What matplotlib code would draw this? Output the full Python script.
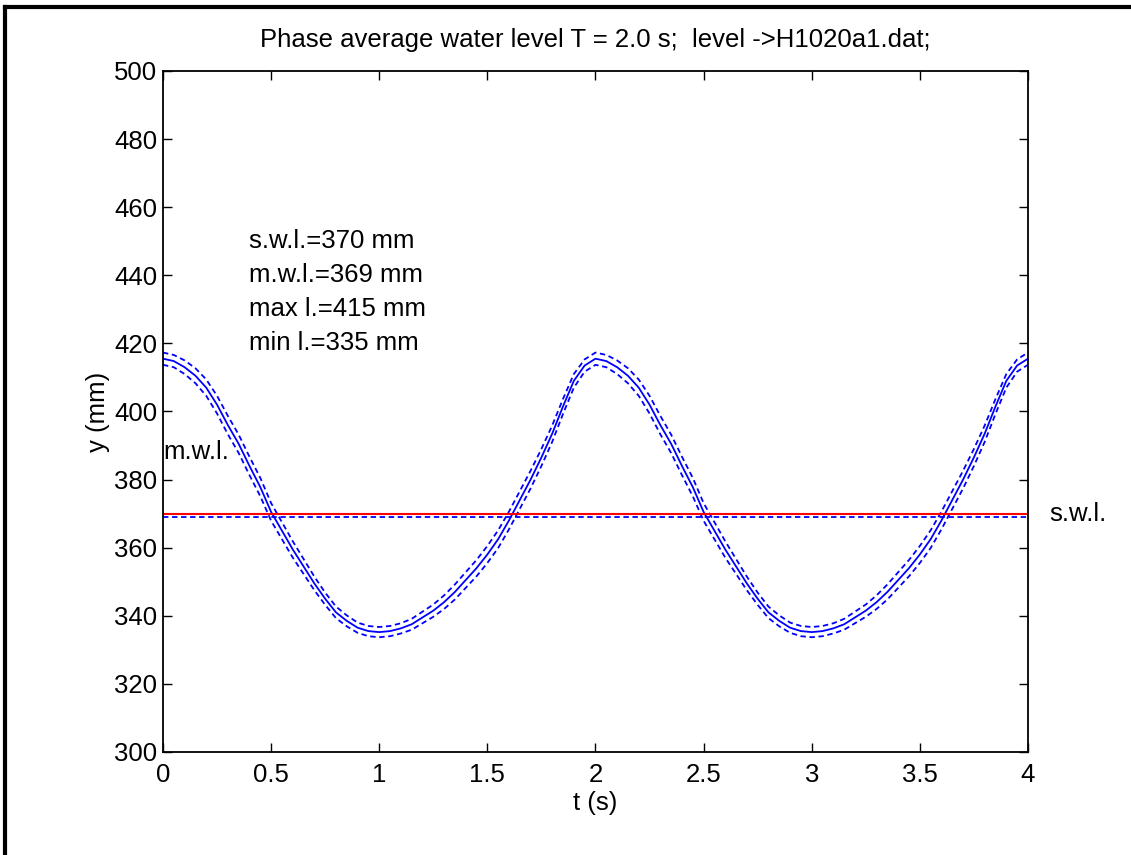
import numpy as np
import matplotlib
matplotlib.use("Agg")
import matplotlib.pyplot as plt
from matplotlib.lines import Line2D

plt.rcParams['font.family'] = ['Liberation Sans', 'DejaVu Sans']

# phase averaged water level over one wave period (T = 2.0 s), 0.05 s steps
t_phase = np.linspace(0.0, 2.0, 41)
level_mean = [415.5, 414.8, 413.0, 410.5, 407.0, 402.0, 396.0, 390.5, 384.0, 377.8,
              370.5, 365.0, 359.5, 354.5, 349.5, 345.0, 341.0, 338.5, 336.5, 335.5,
              335.2, 335.5, 336.3, 337.5, 339.5, 341.5, 344.0, 347.0, 350.5, 354.0,
              358.0, 362.5, 368.0, 374.0, 380.0, 386.5, 393.5, 401.5, 409.0, 413.5,
              415.5]
level_dev = [1.8, 1.8, 2.0, 2.2, 2.4, 2.6, 2.7, 2.7, 2.7, 2.7,
             2.6, 2.5, 2.4, 2.2, 2.0, 1.8, 1.7, 1.6, 1.5, 1.5,
             1.5, 1.5, 1.5, 1.6, 1.7, 1.8, 2.0, 2.2, 2.3, 2.4,
             2.5, 2.6, 2.6, 2.6, 2.6, 2.5, 2.4, 2.2, 2.0, 1.8,
             1.8]
period = 2.0
swl = 370
mwl = 369
max_l = 415
min_l = 335

# the phase average is shown over two periods
t = np.concatenate([t_phase, t_phase[1:] + period])
mean = np.concatenate([level_mean, level_mean[1:]])
dev = np.concatenate([level_dev, level_dev[1:]])

fig = plt.figure(figsize=(11.31, 8.55), dpi=100)
ax = fig.add_axes([0.1441, 0.1205, 0.7648, 0.7965])

ax.plot(t, mean, color='blue', linewidth=1.3)
ax.plot(t, mean + dev, color='blue', linestyle='--', linewidth=1.3, dashes=(3, 2))
ax.plot(t, mean - dev, color='blue', linestyle='--', linewidth=1.3, dashes=(3, 2))
ax.axhline(swl, color='red', linewidth=1.5)
ax.axhline(mwl, color='blue', linestyle='--', linewidth=1.3, dashes=(3, 2))

fs = 18.5
ax.set_xlim(0, 4)
ax.set_ylim(300, 500)
ax.set_xticks(np.arange(0, 4.01, 0.5))
ax.set_xticklabels(['0', '0.5', '1', '1.5', '2', '2.5', '3', '3.5', '4'])
ax.set_yticks(np.arange(300, 501, 20))
ax.tick_params(direction='in', length=6.5, width=1.0, top=True, right=True,
               labelsize=fs, pad=4)
ax.tick_params(axis='x', pad=8)
for s in ax.spines.values():
    s.set_linewidth(1.3)

ax.set_title('Phase average water level T = 2.0 s;  level ->H1020a1.dat;',
             fontsize=fs, pad=17)
ax.set_xlabel('t (s)', fontsize=fs, labelpad=3)
ax.set_ylabel('y (mm)', fontsize=fs, labelpad=3)

ax.text(0.4, 450, 's.w.l.=%d mm' % swl, fontsize=fs, va='center')
ax.text(0.4, 440, 'm.w.l.=%d mm' % mwl, fontsize=fs, va='center')
ax.text(0.4, 430, 'max l.=%d mm' % max_l, fontsize=fs, va='center')
ax.text(0.4, 420, 'min l.=%d mm' % min_l, fontsize=fs, va='center')
ax.text(0.0, 388, 'm.w.l.', fontsize=fs, va='center')
ax.text(4.1, swl, 's.w.l.', fontsize=fs, va='center', clip_on=False)

# thick frame on the top and left edges of the window
fig.add_artist(Line2D([0.0045, 1.0], [0.992, 0.992], transform=fig.transFigure,
                      color='black', linewidth=3.0))
fig.add_artist(Line2D([0.0045, 0.0045], [0.0, 0.992], transform=fig.transFigure,
                      color='black', linewidth=3.0))

fig.savefig('out.png', dpi=100)
